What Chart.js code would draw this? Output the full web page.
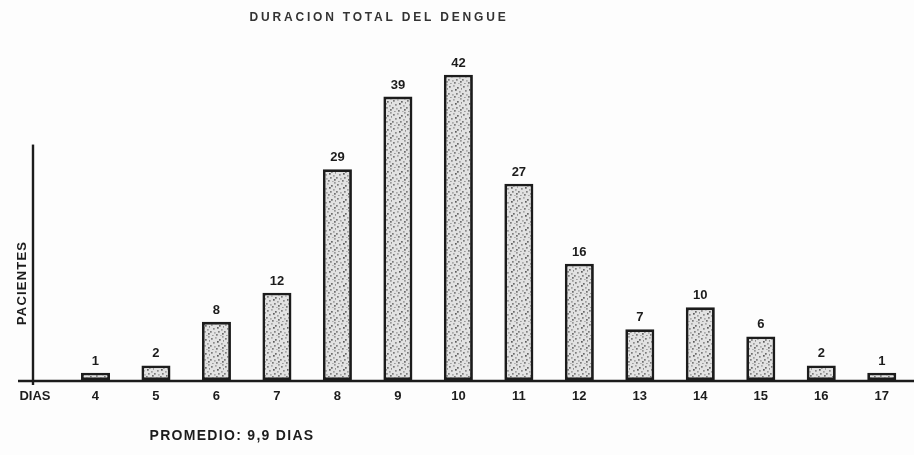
<!DOCTYPE html>
<html>
<head>
<meta charset="utf-8">
<script src="https://cdn.jsdelivr.net/npm/chart.js@4.4.1/dist/chart.umd.min.js"></script>
<style>
  html, body { margin: 0; padding: 0; background: #fdfdfd; }
  #wrap { position: relative; width: 914px; height: 455px; }
</style>
</head>
<body>
<div id="wrap"><canvas id="c" width="914" height="455"></canvas></div>
<script>
// ---- data ----
const days = [4, 5, 6, 7, 8, 9, 10, 11, 12, 13, 14, 15, 16, 17];
const patients = [1, 2, 8, 12, 29, 39, 42, 27, 16, 7, 10, 6, 2, 1];
const titleText = 'DURACION TOTAL DEL DENGUE';
const yLabel = 'PACIENTES';
const xLabel = 'DIAS';
const footText = 'PROMEDIO: 9,9 DIAS';

// stipple pattern (fixed dot layout)
function makePattern() {
  const p = document.createElement('canvas');
  p.width = 14; p.height = 14;
  const g = p.getContext('2d');
  g.fillStyle = '#e2e2e2';
  g.fillRect(0, 0, 14, 14);
  const dots = [[1,2,'#7a7a7a'],[5,1,'#a8a8a8'],[9,3,'#6a6a6a'],[12,0,'#989898'],[3,6,'#8a8a8a'],
                [7,5,'#5e5e5e'],[11,7,'#a0a0a0'],[0,9,'#7c7c7c'],[4,10,'#acacac'],[8,9,'#808080'],
                [12,11,'#6c6c6c'],[2,13,'#9c9c9c'],[6,12,'#787878'],[10,13,'#b0b0b0'],[13,4,'#8c8c8c']];
  dots.forEach(([x,y,c]) => { g.fillStyle = c; g.fillRect(x, y, 1.7, 1.7); });
  return g.createPattern(p, 'repeat');
}
const ctx0 = document.getElementById('c').getContext('2d');
const stipple = makePattern();

const ink = '#1c1c1c';
const fontFam = '"Liberation Sans", Arial, sans-serif';

const decor = {
  id: 'decor',
  afterDatasetsDraw(chart) {
    const { ctx, scales: { x, y } } = chart;
    ctx.save();
    // baseline
    const base = y.getPixelForValue(0);
    ctx.strokeStyle = ink;
    ctx.lineWidth = 2.6;
    ctx.beginPath();
    ctx.moveTo(18, base + 1);
    ctx.lineTo(chart.width, base + 1);
    ctx.stroke();
    // y axis line
    const ax = x.getPixelForValue(3) - 2;
    ctx.lineWidth = 2.4;
    ctx.beginPath();
    ctx.moveTo(ax, y.getPixelForValue(32.4));
    ctx.lineTo(ax, base + 5);
    ctx.stroke();
    // value labels
    ctx.fillStyle = ink;
    ctx.font = 'bold 13px ' + fontFam;
    ctx.textAlign = 'center';
    ctx.textBaseline = 'alphabetic';
    const meta = chart.getDatasetMeta(0);
    meta.data.forEach((bar, i) => {
      ctx.fillText(String(patients[i]), bar.x, bar.y - 8);
    });
    // title
    if ('letterSpacing' in ctx) ctx.letterSpacing = '2.8px';
    ctx.fillStyle = '#333333';
    ctx.font = 'bold 12px ' + fontFam;
    ctx.textBaseline = 'middle';
    ctx.fillText(titleText, 379, 18);
    // footer
    ctx.fillStyle = ink;
    ctx.font = 'bold 14px ' + fontFam;
    if ('letterSpacing' in ctx) ctx.letterSpacing = '1.3px';
    ctx.fillText(footText, 232, 436);
    // y label rotated
    ctx.translate(22, 283);
    ctx.rotate(-Math.PI / 2);
    if ('letterSpacing' in ctx) ctx.letterSpacing = '1.2px';
    ctx.font = 'bold 13px ' + fontFam;
    ctx.fillText(yLabel, 0, 0);
    ctx.restore();
  }
};

new Chart(ctx0, {
  type: 'bar',
  data: {
    datasets: [{
      data: days.map((d, i) => ({ x: d, y: patients[i] })),
      backgroundColor: stipple,
      borderColor: ink,
      borderWidth: 2.8,
      borderSkipped: false,
      barPercentage: 0.48,
      categoryPercentage: 1
    }]
  },
  options: {
    responsive: false,
    animation: false,
    devicePixelRatio: 1,
    layout: { padding: { left: 35, right: 2, top: 53, bottom: 0 } },
    plugins: { legend: { display: false }, tooltip: { enabled: false }, title: { display: false } },
    scales: {
      x: {
        type: 'linear',
        min: 3, max: 17.5,
        offset: false,
        grid: { display: false, drawTicks: false },
        border: { display: false },
        afterFit(s) { s.height = 75; },
        ticks: {
          stepSize: 1,
          includeBounds: false,
          autoSkip: false,
          maxRotation: 0,
          padding: 9,
          color: ink,
          font: { family: fontFam, size: 13, weight: 'bold' },
          callback: v => (v === 3 ? xLabel : (Number.isInteger(v) ? String(v) : ''))
        }
      },
      y: {
        display: false,
        min: 0, max: 45
      }
    }
  },
  plugins: [decor]
});
</script>
</body>
</html>
